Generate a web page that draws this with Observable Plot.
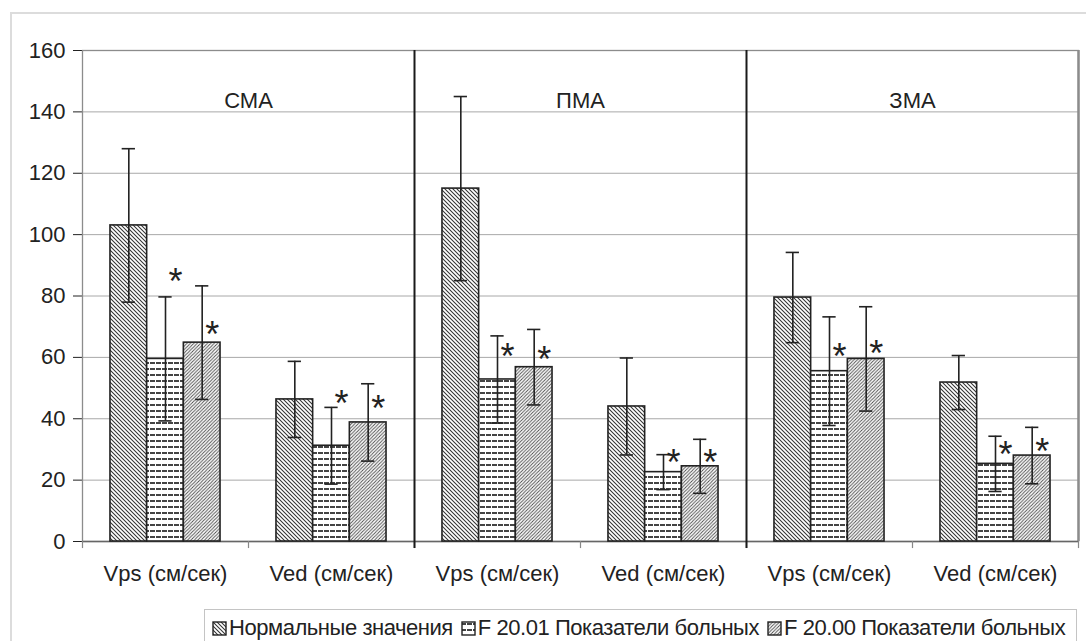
<!DOCTYPE html>
<html>
<head>
<meta charset="utf-8">
<script src="https://cdn.jsdelivr.net/npm/d3@7"></script>
<script src="https://cdn.jsdelivr.net/npm/@observablehq/plot@0.6"></script>
<style>
  html, body { margin: 0; padding: 0; background: #fff; }
  body { font-family: "Liberation Sans", Arial, sans-serif; }
  #wrap { position: relative; width: 1086px; height: 641px; overflow: hidden; background: #fff; }
  #outer { position: absolute; left: 10px; top: 12px; width: 1090px; height: 700px; border: 2px solid #dcdcdc; box-sizing: border-box; }
  #chart { position: absolute; left: 0; top: 0; }
  #legend { position: absolute; left: 204px; top: 609px; width: 873px; height: 60px; border: 1px solid #c4c4c4; box-sizing: border-box;
            display: flex; align-items: flex-start; padding: 5px 0 0 7px; font-size: 22px; color: #222; white-space: nowrap; letter-spacing: -0.45px; }
  #legend .item { display: flex; align-items: center; margin-right: 8px; }
  #legend svg { margin-right: 2px; }
</style>
</head>
<body>
<svg width="0" height="0" style="position:absolute">
  <defs>
    <pattern id="pat0" patternUnits="userSpaceOnUse" width="4" height="4">
      <rect width="4" height="4" fill="#fff"/>
      <path d="M-1,-1 L5,5 M-1,3 L1,5 M3,-1 L5,1" stroke="#333" stroke-width="1.05"/>
    </pattern>
    <pattern id="pat1" patternUnits="userSpaceOnUse" width="6" height="6">
      <rect width="6" height="6" fill="#fff"/>
      <path d="M0,3 L6,3" stroke="#2e2e2e" stroke-width="1.8" stroke-dasharray="5 1"/>
    </pattern>
    <pattern id="pat2" patternUnits="userSpaceOnUse" width="3.4" height="3.4">
      <rect width="3.4" height="3.4" fill="#fff"/>
      <path d="M-1,4.4 L4.4,-1 M-1,1 L1,-1 M2.4,4.4 L4.4,2.4" stroke="#4a4a4a" stroke-width="0.9"/>
    </pattern>
  </defs>
</svg>
<div id="wrap">
  <div id="outer"></div>
  <div id="chart"></div>
  <div id="legend"></div>
</div>
<script>
// ---- data ----
const categories = ["СМА Vps", "СМА Ved", "ПМА Vps", "ПМА Ved", "ЗМА Vps", "ЗМА Ved"];
const tickLabels = ["Vps (см/сек)", "Ved (см/сек)", "Vps (см/сек)", "Ved (см/сек)", "Vps (см/сек)", "Ved (см/сек)"];
const panels = ["СМА", "ПМА", "ЗМА"];
const groups = ["Нормальные значения", "F 20.01 Показатели больных", "F 20.00 Показатели больных"];

const normalMean = [103, 46.3, 115, 44, 79.5, 51.8];
const normalSd   = [25, 12.4, 30, 15.8, 14.7, 8.8];
const f01Mean    = [59.5, 31.2, 52.8, 22.6, 55.5, 25.3];
const f01Sd      = [20.2, 12.5, 14.2, 5.7, 17.7, 9];
const f00Mean    = [64.8, 38.8, 56.8, 24.5, 59.5, 28];
const f00Sd      = [18.5, 12.6, 12.3, 8.8, 17, 9.2];

// significance asterisks (value level of each star) for the two patient groups
const starF01 = [87.5, 47.6, 63, 28.5, 63, 31];
const starF00 = [70, 46, 62, 28.5, 64, 32];

const yTicks = [0, 20, 40, 60, 80, 100, 120, 140, 160];

// ---- build table ----
const means = [normalMean, f01Mean, f00Mean];
const sds = [normalSd, f01Sd, f00Sd];
const stars = [null, starF01, starF00];
const barW = 0.221;
const pad = (1 - 3 * barW) / 2;
const cap = 0.04;
const rows = [];
categories.forEach((c, i) => {
  groups.forEach((g, k) => {
    const x1 = i + pad + k * barW;
    rows.push({cat: c, group: g, k, mean: means[k][i], sd: sds[k][i], x1, x2: x1 + barW, xc: x1 + barW / 2,
               star: stars[k] ? stars[k][i] : null, fill: `url(#pat${k})`});
  });
});
const starRows = rows.filter(d => d.star != null);

const font = "'Liberation Sans', Arial, sans-serif";
const chart = Plot.plot({
  width: 1086,
  height: 600,
  marginLeft: 82,
  marginRight: 8,
  marginTop: 50,
  marginBottom: 59,
  style: {fontFamily: font, fontSize: "22px", color: "#222", background: "transparent", overflow: "visible"},
  x: {domain: [0, categories.length], ticks: categories.map((c, i) => i + 0.5), tickFormat: (d) => tickLabels[Math.floor(d)], tickSize: 0, tickPadding: 24, label: null},
  y: {domain: [0, 160], ticks: yTicks, tickSize: 9, tickPadding: 8, label: null},
  color: {type: "identity"},
  marks: [
    Plot.ruleY(yTicks.filter(t => t > 0 && t < 160), {stroke: "#a8a8a8", strokeWidth: 1}),
    Plot.frame({stroke: "#8c8c8c", strokeWidth: 1.3}),
    Plot.ruleX([categories.length], {stroke: "#8c8c8c", strokeWidth: 2.5}),
    Plot.ruleY([0], {stroke: "#666", strokeWidth: 1.5}),
    Plot.ruleX(d3.range(categories.length + 1), {y1: 0, y2: -2.3, stroke: "#888", strokeWidth: 1.2}),
    Plot.rectY(rows, {x1: "x1", x2: "x2", y1: 0, y2: "mean", fill: "fill", stroke: "#222", strokeWidth: 1.6}),
    Plot.ruleX(rows, {x: "xc", y1: d => d.mean - d.sd, y2: d => d.mean + d.sd, stroke: "#222", strokeWidth: 1.6}),
    Plot.ruleY(rows, {y: d => d.mean + d.sd, x1: d => d.xc - cap, x2: d => d.xc + cap, stroke: "#222", strokeWidth: 1.6}),
    Plot.ruleY(rows, {y: d => d.mean - d.sd, x1: d => d.xc - cap, x2: d => d.xc + cap, stroke: "#222", strokeWidth: 1.6}),
    Plot.ruleX([2, 4], {stroke: "#1a1a1a", strokeWidth: 2, insetBottom: -7}),
    Plot.text(panels, {x: (d, i) => 2 * i + 1, y: 143.5, text: d => d, fontSize: 22, fill: "#222"}),
    Plot.text(starRows, {x: "xc", y: "star", text: () => "*", dx: 10, dy: 9, fontSize: 36, fill: "#222"})
  ]
});
document.getElementById("chart").appendChild(chart);

// legend
const legend = d3.select("#legend");
groups.forEach((g, k) => {
  const it = legend.append("div").attr("class", "item");
  const s = it.append("svg").attr("width", 15).attr("height", 15);
  s.append("rect").attr("x", 1).attr("y", 1).attr("width", 13).attr("height", 13)
    .attr("fill", `url(#pat${k})`).attr("stroke", "#222").attr("stroke-width", 1.4);
  it.append("span").text(g);
});
</script>
</body>
</html>
